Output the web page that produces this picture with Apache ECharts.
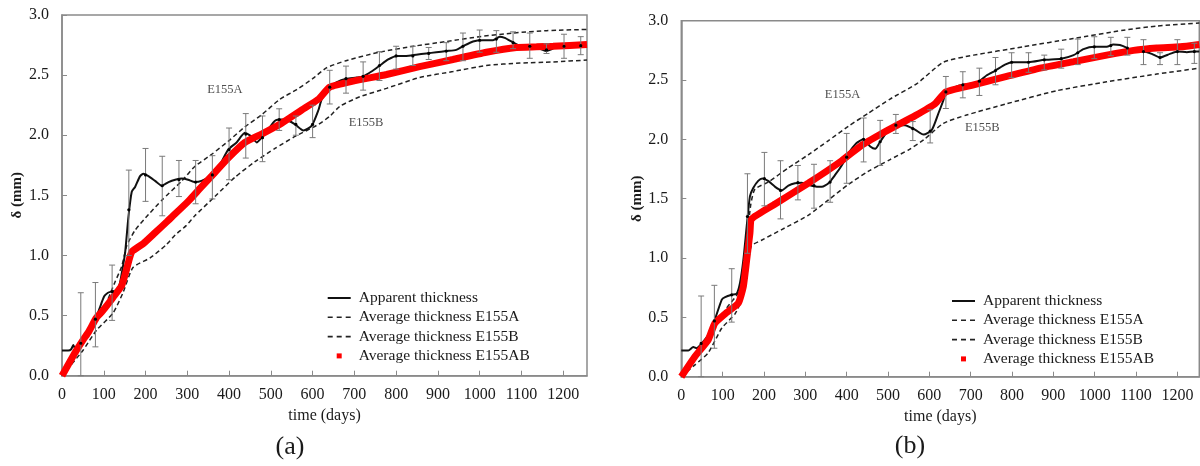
<!DOCTYPE html>
<html>
<head>
<meta charset="utf-8">
<script src="https://cdn.jsdelivr.net/npm/echarts@6/dist/echarts.min.js"></script>
<style>
  html, body { margin: 0; padding: 0; background: #fff; }
  #chart { width: 1200px; height: 466px; }
</style>
</head>
<body>
<div id="chart"></div>
<script>
// ---- Panel (a): time (days) vs thickness (mm) ----
const apparentA = [[0,0.21],[15,0.21],[22,0.22],[27,0.255],[31,0.23],[40,0.25],[47,0.28],[59,0.34],[70,0.40],[79,0.46],[90,0.56],[101,0.66],[110,0.69],[119,0.70],[131,0.71],[138,0.76],[143,0.85],[151,1.02],[159,1.32],[167,1.53],[175,1.57],[187,1.66],[195,1.68],[207,1.66],[223,1.62],[239,1.58],[255,1.61],[271,1.63],[287,1.64],[302,1.63],[318,1.61],[334,1.62],[358,1.67],[374,1.73],[398,1.88],[418,1.94],[438,2.02],[454,1.99],[466,1.94],[478,1.98],[494,2.05],[510,2.12],[526,2.13],[542,2.12],[558,2.09],[578,2.04],[598,2.08],[614,2.21],[622,2.30],[641,2.40],[657,2.44],[681,2.47],[705,2.48],[721,2.49],[741,2.53],[761,2.58],[781,2.63],[801,2.66],[824,2.66],[848,2.67],[872,2.68],[896,2.69],[920,2.70],[944,2.71],[960,2.74],[984,2.78],[1008,2.79],[1032,2.79],[1048,2.82],[1060,2.81],[1076,2.78],[1092,2.75],[1120,2.74],[1144,2.72],[1160,2.70],[1176,2.72]];
// [day, mean, low, high]
const errorsA = [[45,0.27,0.0,0.69],[80,0.47,0.24,0.775],[120,0.70,0.46,0.92],[160,1.38,1.0,1.71],[200,1.67,1.45,1.89],[240,1.58,1.33,1.825],[280,1.63,1.49,1.79],[320,1.61,1.43,1.79],[360,1.67,1.47,1.83],[400,1.88,1.63,2.06],[440,2.01,1.81,2.18],[480,1.98,1.78,2.16],[520,2.13,2.04,2.22],[560,2.09,2.0,2.16],[600,2.09,1.98,2.25],[641,2.40,2.26,2.54],[680,2.47,2.35,2.575],[721,2.49,2.375,2.61],[760,2.58,2.455,2.695],[800,2.66,2.55,2.74],[840,2.66,2.58,2.74],[878,2.68,2.63,2.73],[920,2.70,2.62,2.77],[960,2.74,2.62,2.85],[1000,2.79,2.69,2.875],[1040,2.80,2.69,2.87],[1080,2.77,2.72,2.86],[1120,2.74,2.64,2.85],[1160,2.71,2.68,2.76],[1202,2.74,2.64,2.84],[1242,2.745,2.67,2.82]];
const avgE155A_a = [[0,0],[50,0.28],[100,0.56],[127,0.78],[143,0.91],[155,1.08],[175,1.21],[207,1.34],[239,1.46],[287,1.62],[318,1.74],[358,1.84],[398,1.95],[438,2.07],[478,2.17],[522,2.30],[562,2.38],[600,2.47],[633,2.56],[680,2.62],[759,2.69],[841,2.74],[921,2.78],[1000,2.82],[1080,2.85],[1160,2.87],[1257,2.88]];
const avgE155B_a = [[0,0],[50,0.21],[83,0.38],[122,0.52],[146,0.69],[170,0.90],[211,0.98],[250,1.09],[271,1.17],[298,1.25],[318,1.33],[366,1.49],[414,1.65],[462,1.78],[510,1.89],[558,1.99],[614,2.09],[642,2.16],[665,2.24],[713,2.32],[777,2.39],[856,2.48],[936,2.53],[1016,2.58],[1096,2.60],[1176,2.61],[1257,2.625]];
const avgE155AB_a = [[0,0],[31,0.19],[51,0.30],[63,0.36],[82,0.48],[95,0.53],[122,0.65],[143,0.75],[155,0.89],[167,1.03],[195,1.10],[223,1.19],[251,1.28],[263,1.32],[302,1.45],[331,1.56],[358,1.66],[398,1.81],[438,1.94],[478,2.01],[526,2.10],[574,2.21],[614,2.30],[641,2.40],[697,2.45],[777,2.505],[856,2.57],[936,2.63],[1016,2.69],[1088,2.73],[1136,2.735],[1176,2.74],[1257,2.755]];

// ---- Panel (b) ----
const apparentB = [[0,0.22],[17,0.22],[29,0.25],[37,0.24],[49,0.28],[65,0.35],[81,0.48],[98,0.65],[106,0.67],[122,0.69],[134,0.70],[142,0.79],[150,0.98],[158,1.26],[166,1.52],[174,1.59],[186,1.65],[196,1.67],[210,1.65],[227,1.60],[243,1.57],[259,1.61],[275,1.63],[291,1.635],[315,1.61],[340,1.60],[356,1.63],[372,1.70],[388,1.78],[404,1.88],[424,1.97],[440,2.00],[457,1.94],[469,1.92],[481,1.98],[497,2.06],[517,2.12],[541,2.12],[566,2.08],[586,2.04],[606,2.08],[622,2.22],[634,2.33],[640,2.40],[662,2.44],[681,2.46],[703,2.47],[721,2.49],[739,2.54],[760,2.58],[783,2.63],[803,2.65],[840,2.65],[878,2.67],[919,2.68],[949,2.71],[973,2.76],[999,2.78],[1029,2.78],[1045,2.80],[1061,2.795],[1078,2.77],[1090,2.74],[1118,2.74],[1138,2.72],[1158,2.69],[1182,2.72],[1200,2.74],[1223,2.735],[1241,2.74],[1253,2.74]];
const errorsB = [[48,0.28,0,0.68],[80,0.47,0.24,0.77],[122,0.69,0.46,0.91],[160,1.35,1.04,1.71],[201,1.67,1.44,1.89],[240,1.57,1.33,1.82],[282,1.635,1.49,1.78],[321,1.61,1.42,1.79],[360,1.64,1.47,1.82],[400,1.85,1.63,2.05],[441,2.00,1.81,2.18],[481,1.98,1.78,2.16],[519,2.12,2.05,2.21],[560,2.09,1.99,2.15],[602,2.07,1.97,2.25],[640,2.40,2.26,2.53],[681,2.46,2.35,2.57],[721,2.49,2.37,2.60],[760,2.58,2.46,2.69],[799,2.65,2.52,2.73],[840,2.65,2.565,2.73],[878,2.67,2.585,2.71],[919,2.68,2.60,2.76],[959,2.73,2.63,2.845],[999,2.78,2.68,2.865],[1039,2.79,2.705,2.86],[1079,2.77,2.71,2.86],[1118,2.74,2.63,2.84],[1158,2.69,2.63,2.73],[1200,2.74,2.63,2.84],[1241,2.74,2.64,2.81]];
const avgE155A_b = [[0,0],[40,0.20],[80,0.42],[110,0.58],[140,0.72],[152,0.95],[160,1.2],[168,1.45],[178,1.58],[210,1.64],[259,1.76],[307,1.87],[356,1.99],[404,2.11],[452,2.22],[505,2.34],[570,2.47],[634,2.65],[707,2.71],[827,2.78],[948,2.85],[1069,2.92],[1150,2.955],[1253,2.98]];
const avgE155B_b = [[0,0],[33,0.10],[65,0.20],[98,0.41],[130,0.53],[146,0.65],[158,0.84],[169,1.10],[194,1.15],[243,1.24],[307,1.36],[356,1.49],[404,1.62],[452,1.73],[505,1.83],[549,1.91],[586,1.995],[634,2.135],[690,2.205],[787,2.30],[908,2.41],[1029,2.485],[1150,2.55],[1253,2.60]];
const avgE155AB_b = [[0,0],[33,0.17],[65,0.31],[81,0.45],[106,0.53],[138,0.62],[150,0.76],[158,0.98],[166,1.21],[170,1.33],[227,1.456],[307,1.63],[388,1.82],[436,1.95],[485,2.05],[517,2.11],[566,2.20],[614,2.30],[640,2.40],[707,2.46],[787,2.53],[868,2.60],[949,2.655],[1029,2.71],[1094,2.75],[1150,2.77],[1207,2.78],[1253,2.80]];

// Curve labels and panel captions
const curveLabels = [{ name: 'E155A', value: [390, 2.38] }, { name: 'E155B', value: [728, 2.10] }];
const panelCaptions = ['(a)', '(b)'];
const yTicks = { min: 0, max: 3, interval: 0.5 };
const xMax = [1257, 1253];

const NAMES = ['Apparent thickness', 'Average thickness E155A', 'Average thickness E155B', 'Average thickness E155AB'];
const FONT = "'Liberation Serif', 'Times New Roman', serif";
const FRAME = '#8a8a8a';
const INK = '#1a1a1a';

// Legend glyphs (23 x 12 box): solid stroke, three dashes, small square
const ICON_SOLID = 'path://M0,0 M23,12 M0,5 L23,5 L23,7 L0,7 Z';
const ICON_DASH = 'path://M0,0 M23,12 M0,5.2 L5,5.2 L5,6.8 L0,6.8 Z M9,5.2 L14,5.2 L14,6.8 L9,6.8 Z M18,5.2 L23,5.2 L23,6.8 L18,6.8 Z';
const ICON_SQUARE = 'path://M0,0 M23,12 M9,3.5 L14,3.5 L14,8.5 L9,8.5 Z';

const grids = [
  { left: 62, top: 15, width: 525, height: 360.7 },
  { left: 681.3, top: 20.7, width: 518, height: 356 }
];

function errorBarSeries(gi, data) {
  return {
    type: 'custom', xAxisIndex: gi, yAxisIndex: gi, z: 5, silent: true,
    data: data,
    encode: { x: 0, y: [1, 2, 3] },
    renderItem: function (params, api) {
      const x = api.value(0);
      const pM = api.coord([x, api.value(1)]);
      const pLo = api.coord([x, api.value(2)]);
      const pHi = api.coord([x, api.value(3)]);
      const w = 3;
      const st = { stroke: '#7a7a7a', lineWidth: 1 };
      return {
        type: 'group',
        children: [
          { type: 'line', shape: { x1: pLo[0], y1: pLo[1], x2: pHi[0], y2: pHi[1] }, style: st },
          { type: 'line', shape: { x1: pHi[0] - w, y1: pHi[1], x2: pHi[0] + w, y2: pHi[1] }, style: st },
          { type: 'line', shape: { x1: pLo[0] - w, y1: pLo[1], x2: pLo[0] + w, y2: pLo[1] }, style: st },
          { type: 'circle', shape: { cx: pM[0], cy: pM[1], r: 1.6 }, style: { fill: '#000' } }
        ]
      };
    }
  };
}

function panelSeries(gi, apparent, errs, a, b, ab) {
  const dash = { color: '#222', width: 1.5, type: [4.5, 3] };
  return [
    { name: NAMES[0], type: 'line', xAxisIndex: gi, yAxisIndex: gi, data: apparent, symbol: 'none', smooth: 0.2,
      lineStyle: { color: '#111', width: 2 }, itemStyle: { color: '#111' }, z: 3 },
    { name: NAMES[1], type: 'line', xAxisIndex: gi, yAxisIndex: gi, data: a, symbol: 'none', smooth: 0.2,
      lineStyle: dash, itemStyle: { color: '#222' }, z: 2 },
    { name: NAMES[2], type: 'line', xAxisIndex: gi, yAxisIndex: gi, data: b, symbol: 'none', smooth: 0.2,
      lineStyle: dash, itemStyle: { color: '#222' }, z: 2 },
    { name: NAMES[3], type: 'line', xAxisIndex: gi, yAxisIndex: gi, data: ab, symbol: 'none', smooth: 0.15,
      lineStyle: { color: '#ff0000', width: 7 }, itemStyle: { color: '#ff0000' }, z: 4 },
    errorBarSeries(gi, errs),
    { type: 'scatter', xAxisIndex: gi, yAxisIndex: gi, data: curveLabels, symbolSize: 1, silent: true,
      itemStyle: { color: 'transparent' }, z: 6,
      label: { show: true, position: 'inside', formatter: '{b}', fontFamily: FONT, fontSize: 12.5, color: '#222' } }
  ];
}

function legendFor(left, top) {
  return {
    orient: 'vertical', left: left, top: top, padding: 0, selectedMode: false,
    itemWidth: 23, itemHeight: 12, itemGap: 3.3,
    textStyle: { fontFamily: FONT, fontSize: 15.5, color: INK, lineHeight: 16, padding: [0, 0, 0, 3] },
    data: [
      { name: NAMES[0], icon: ICON_SOLID, itemStyle: { color: '#111' } },
      { name: NAMES[1], icon: ICON_DASH, itemStyle: { color: '#222' } },
      { name: NAMES[2], icon: ICON_DASH, itemStyle: { color: '#222' } },
      { name: NAMES[3], icon: ICON_SQUARE, itemStyle: { color: '#ff0000' } }
    ]
  };
}

const xAxes = grids.map(function (g, i) {
  return {
    type: 'value', gridIndex: i, min: 0, max: xMax[i], interval: 100,
    name: 'time (days)', nameLocation: 'middle', nameGap: 31,
    nameTextStyle: { fontFamily: FONT, fontSize: 16, color: INK },
    axisLine: { show: true, lineStyle: { color: FRAME, width: 1.5 } },
    axisTick: { show: true, inside: true, length: 5, lineStyle: { color: FRAME } },
    axisLabel: { fontFamily: FONT, fontSize: 16, color: INK, margin: 11, showMaxLabel: false,
      formatter: function (v) { return String(v); } },
    splitLine: { show: false }
  };
});
const yAxes = grids.map(function (g, i) {
  return {
    type: 'value', gridIndex: i, min: yTicks.min, max: yTicks.max, interval: yTicks.interval,
    name: 'δ (mm)', nameLocation: 'middle', nameGap: 37, nameRotate: 90,
    nameTextStyle: { fontFamily: FONT, fontSize: 15, fontWeight: 'bold', color: INK },
    axisLine: { show: true, lineStyle: { color: FRAME, width: 1.5 } },
    axisTick: { show: true, inside: true, length: 5, lineStyle: { color: FRAME } },
    axisLabel: { fontFamily: FONT, fontSize: 16, color: INK, margin: 13,
      formatter: function (v) { return v.toFixed(1); } },
    splitLine: { show: false }
  };
});

const chart = echarts.init(document.getElementById('chart'), null, { renderer: 'canvas' });
chart.setOption({
  backgroundColor: '#fff',
  animation: false,
  grid: grids.map(function (g) {
    return Object.assign({ show: true, borderColor: FRAME, borderWidth: 1.5, backgroundColor: 'transparent', outerBoundsMode: 'none' }, g);
  }),
  xAxis: xAxes,
  yAxis: yAxes,
  legend: [legendFor(327.7, 290), legendFor(952, 293)],
  graphic: [
    { type: 'text', x: 290, y: 447, style: { text: panelCaptions[0], font: '26px ' + FONT, fill: INK, align: 'center', verticalAlign: 'middle' } },
    { type: 'text', x: 910, y: 446, style: { text: panelCaptions[1], font: '26px ' + FONT, fill: INK, align: 'center', verticalAlign: 'middle' } }
  ],
  series: [].concat(
    panelSeries(0, apparentA, errorsA, avgE155A_a, avgE155B_a, avgE155AB_a),
    panelSeries(1, apparentB, errorsB, avgE155A_b, avgE155B_b, avgE155AB_b)
  )
});
</script>
</body>
</html>
